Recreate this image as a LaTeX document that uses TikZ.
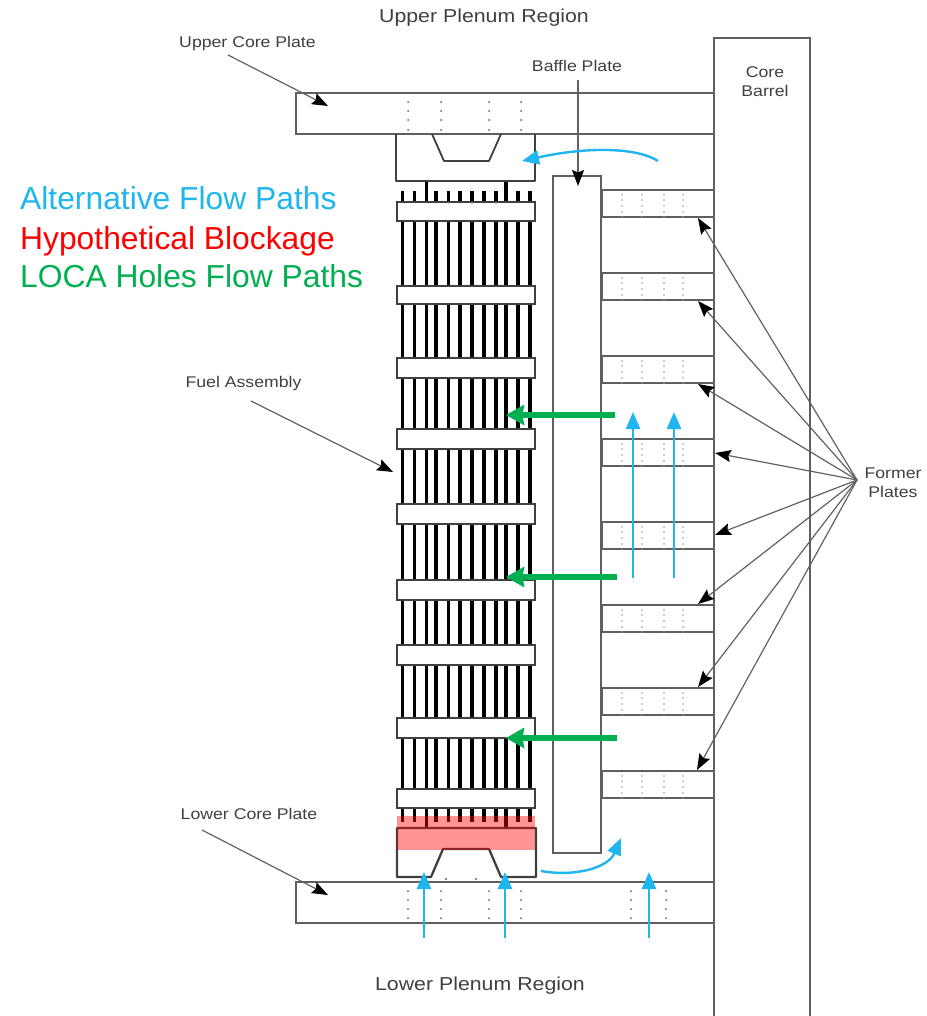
\documentclass[tikz,border=0pt]{standalone}
\usepackage{fontspec}
\setmainfont{Liberation Sans}
\newfontfamily\widefont[FakeStretch=1.14]{Liberation Sans}
\usetikzlibrary{arrows.meta}
\definecolor{flowblue}{HTML}{1FB5EE}
\definecolor{locagreen}{HTML}{00B050}
\definecolor{linegrey}{HTML}{5F5F5F}
\definecolor{textgrey}{HTML}{404040}
\tikzset{
 plate/.style={draw=linegrey,line width=1.5pt,fill=white},
 nozzle/.style={draw=black!75,line width=2.3pt,line join=round},
 gridbox/.style={draw=black!75,line width=1.8pt,fill=white},
 rod/.style={draw=black,line width=3.6pt},
 lbl/.style={font=\widefont\fontsize{15.5}{19}\selectfont,text=textgrey,align=center,inner sep=0pt,anchor=base},
 twolbl/.style={font=\widefont\fontsize{15.5}{19}\selectfont,text=textgrey,align=center,inner sep=0pt},
 biglbl/.style={font=\widefont\fontsize{18.7}{22}\selectfont,text=textgrey,inner sep=0pt,anchor=base},
 legend/.style={font=\fontsize{31.8}{36}\selectfont,anchor=base west,inner sep=0pt},
 leader/.style={draw=black!62,line width=1.2pt,-{Stealth[length=16pt,width=12pt,inset=2.5pt,color=black]}},
 blueflow/.style={draw=flowblue,line width=2.4pt,-{Triangle[length=17pt,width=14pt]}},
 greenflow/.style={draw=locagreen,line width=5.5pt,-{Stealth[length=18pt,width=20pt,inset=1.5pt]}},
}
\begin{document}
\begin{tikzpicture}[x=1pt,y=-1pt]
\useasboundingbox (0,0) rectangle (926,1016);
% core barrel (open at the bottom)
\draw[plate,fill=none] (714,1016) -- (714,38) -- (810,38) -- (810,1016);
% plates
\draw[plate] (296,93) rectangle (714,134);
\draw[plate] (296,882) rectangle (714,923);
\foreach \x in {408,441,489,521}{
  \foreach \y in {93,102,111,120,130} \fill[linegrey] (\x,\y) circle (1pt);
  \foreach \y in {882,891,900,909,918} \fill[linegrey] (\x,\y) circle (1pt);
}
\foreach \x in {631,666}{
  \foreach \y in {882,891,900,909,918} \fill[linegrey] (\x,\y) circle (1pt);
}
% baffle
\draw[draw=linegrey,line width=1.2pt,fill=white] (553,176) rectangle (601,853);
% former plates
\foreach \y in {190,273,356,439,522,605,688,771}{
  \draw[plate] (602,\y) rectangle (714,\y+27);
  \foreach \x in {622,642,664,683}
    \foreach \d in {5,10,16,22,27}
      \fill[black!40] (\x,\y+\d) circle (.8pt);
}
% rods
\foreach \x in {402.3,414.3,436,448.3,460,472,484,496,518,529.7}
  \draw[rod] (\x,191) -- (\x,822);
\foreach \x in {426.3,505.7}
  \draw[rod] (\x,181) -- (\x,828);
% grids
\foreach \a/\b in {202/221,286/304,358/378,429/449,504/524,580/600,645/665,718/738,789/808}
  \draw[gridbox] (397,\a) rectangle (535,\b);
% nozzles
\draw[nozzle] (396,134) -- (396,181) -- (535,181) -- (535,134);
\draw[nozzle,line width=1.8pt] (432,134) -- (444,161) -- (489,161) -- (501,134);
\draw[nozzle] (397,828) -- (536,828) -- (536,877) -- (501,877) -- (489,849) -- (443,849) -- (431,877) -- (397,877) -- cycle;
\foreach \x in {446,476} \fill[linegrey] (\x,879) circle (1.2pt);
% hypothetical blockage
\fill[red,opacity=.42] (397,816) rectangle (535,850);
% labels
\node[biglbl] (upperplenum) at (484,22.7) {Upper Plenum Region};
\node[biglbl] (lowerplenum) at (480,990.5) {Lower Plenum Region};
\node[lbl] (uppercore) at (247.5,47.5) {Upper Core Plate};
\node[lbl] (lowercore) at (249,819) {Lower Core Plate};
\node[lbl] (baffle) at (577,71.5) {Baffle Plate};
\node[twolbl] (barrel) at (765,81.5) {Core\\Barrel};
\node[lbl] (fuel) at (243.5,387) {Fuel Assembly};
\node[twolbl] (former) at (893,483) {Former\\Plates};
\node[legend,text=flowblue] (lgA) at (20,210) {Alternative Flow Paths};
\node[legend,text=red] (lgB) at (20,249) {Hypothetical Blockage};
\node[legend,text=locagreen] (lgC) at (20,287) {LOCA Holes Flow Paths};
% leaders
\coordinate (uc0) at (228,55); \coordinate (uc1) at (328,106);
\coordinate (lc0) at (202,830); \coordinate (lc1) at (328,895);
\coordinate (fa0) at (251,401); \coordinate (fa1) at (393,472);
\coordinate (bp0) at (578,80); \coordinate (bp1) at (578,186);
\draw[leader] (uc0) -- (uc1);
\draw[leader] (lc0) -- (lc1);
\draw[leader] (fa0) -- (fa1);
\draw[leader] (bp0) -- (bp1);
\coordinate (fp) at (857,480);
\foreach \n/\x/\y in {a/698/218,b/698/301,c/698/384,d/715/453,e/715/535,f/698/604,g/698/687,h/697/770}{
  \coordinate (fp\n) at (\x,\y);
  \draw[leader] (fp) -- (fp\n);
}
% blue flows
\coordinate (v1s) at (633,578); \coordinate (v1e) at (633,412);
\coordinate (v2s) at (674,578); \coordinate (v2e) at (674,412);
\coordinate (b1s) at (424,938); \coordinate (b1e) at (424,872);
\coordinate (b2s) at (505,938); \coordinate (b2e) at (505,872);
\coordinate (b3s) at (649,938); \coordinate (b3e) at (649,872);
\coordinate (cus) at (658,161); \coordinate (cue) at (522,161);
\coordinate (cls) at (541,871); \coordinate (cle) at (621,838);
\draw[blueflow] (v1s) -- (v1e);
\draw[blueflow] (v2s) -- (v2e);
\draw[blueflow] (b1s) -- (b1e);
\draw[blueflow] (b2s) -- (b2e);
\draw[blueflow] (b3s) -- (b3e);
\draw[blueflow] (cus) .. controls (638,148) and (590,146) .. (cue);
\draw[blueflow] (cls) .. controls (575,877) and (608,868) .. (cle);
% green flows
\coordinate (g1s) at (615,415); \coordinate (g1e) at (506,415);
\coordinate (g2s) at (617,577); \coordinate (g2e) at (506,577);
\coordinate (g3s) at (617,738); \coordinate (g3e) at (506,738);
\draw[greenflow] (g1s) -- (g1e);
\draw[greenflow] (g2s) -- (g2e);
\draw[greenflow] (g3s) -- (g3e);
\end{tikzpicture}
\end{document}
